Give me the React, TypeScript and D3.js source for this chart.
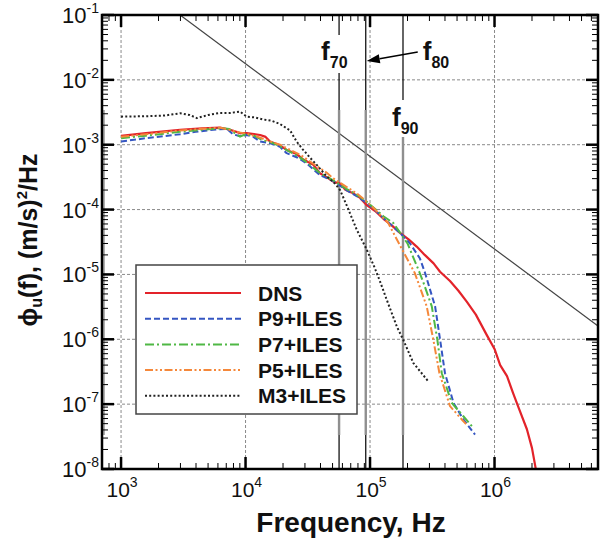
import React from 'react';
import * as d3 from 'd3';

// ---------- data (frequency in Hz, spectrum in (m/s)^2/Hz) ----------
const dns: [number, number][] = [
  [1000, 1.37e-3], [1585, 1.51e-3], [2980, 1.70e-3], [4470, 1.78e-3], [6240, 1.83e-3],
  [7520, 1.70e-3], [9040, 1.51e-3], [10200, 1.51e-3], [13100, 1.41e-3], [14500, 1.32e-3],
  [15700, 1.12e-3], [18900, 9.8e-4], [21400, 8.3e-4], [25700, 7.2e-4], [29100, 5.9e-4],
  [35100, 4.9e-4], [39600, 3.63e-4], [44700, 3.16e-4], [50700, 2.69e-4], [57500, 2.51e-4],
  [63100, 2.04e-4], [69200, 1.86e-4], [73500, 1.78e-4], [83200, 1.51e-4], [94200, 1.17e-4],
  [110000, 9.5e-5], [128000, 7.2e-5], [151000, 5.6e-5], [174000, 4.37e-5], [204000, 3.47e-5],
  [237000, 2.69e-5], [275000, 2.0e-5], [324000, 1.48e-5], [365000, 1.10e-5], [439000, 7.9e-6],
  [513000, 5.6e-6], [598000, 3.8e-6], [708000, 2.4e-6], [865000, 1.17e-6], [1000000, 7.1e-7],
  [1110000, 4.0e-7], [1260000, 2.7e-7], [1410000, 1.48e-7], [1580000, 8.3e-8], [1820000, 4.1e-8],
  [2000000, 2.1e-8], [2150000, 9.8e-9],
];

const p9: [number, number][] = [
  [1000, 1.12e-3], [1585, 1.26e-3], [2980, 1.45e-3], [3980, 1.58e-3], [5500, 1.70e-3],
  [7080, 1.76e-3], [7940, 1.45e-3], [8910, 1.36e-3], [10200, 1.41e-3], [11500, 1.33e-3],
  [13100, 1.12e-3], [15800, 1.05e-3], [18900, 9.3e-4], [21400, 7.4e-4], [26300, 6.3e-4],
  [31600, 5.0e-4], [39600, 3.4e-4], [50700, 2.75e-4], [64600, 2.0e-4], [79400, 1.58e-4],
  [94200, 1.26e-4], [110000, 9.8e-5], [128000, 7.4e-5], [151000, 5.6e-5], [174000, 4.37e-5],
  [209000, 3.02e-5], [251000, 1.78e-5], [277000, 1.05e-5], [302000, 6.0e-6], [333000, 3.24e-6],
  [365000, 1.0e-6], [400000, 3.0e-7], [468000, 1.05e-7], [562000, 5.8e-8], [697000, 3.4e-8],
];

const p7: [number, number][] = [
  [1000, 1.26e-3], [1585, 1.38e-3], [2980, 1.58e-3], [4470, 1.70e-3], [6310, 1.80e-3],
  [7410, 1.74e-3], [8320, 1.48e-3], [9040, 1.33e-3], [10000, 1.45e-3], [12000, 1.35e-3],
  [13800, 1.17e-3], [15800, 1.10e-3], [18900, 9.5e-4], [22400, 7.9e-4], [26900, 6.5e-4],
  [31600, 5.2e-4], [39800, 3.63e-4], [50700, 2.82e-4], [64600, 2.09e-4], [79400, 1.66e-4],
  [94200, 1.32e-4], [110000, 1.02e-4], [128000, 7.9e-5], [154000, 6.2e-5], [200000, 3.0e-5],
  [251000, 1.05e-5], [269000, 7.4e-6], [313000, 3.24e-6], [347000, 1.0e-6], [377000, 3.0e-7],
  [453000, 1.05e-7], [562000, 6.5e-8], [676000, 4.3e-8],
];

const p5: [number, number][] = [
  [1000, 1.33e-3], [1585, 1.45e-3], [2980, 1.66e-3], [4470, 1.76e-3], [6240, 1.83e-3],
  [7410, 1.70e-3], [8910, 1.55e-3], [10200, 1.48e-3], [12600, 1.32e-3], [15800, 1.12e-3],
  [18900, 1.0e-3], [22900, 8.3e-4], [28200, 6.8e-4], [35500, 5.0e-4], [44700, 3.72e-4],
  [50700, 3.02e-4], [64600, 2.24e-4], [79400, 1.74e-4], [94200, 1.32e-4], [110000, 1.0e-4],
  [140000, 6.2e-5], [174000, 2.8e-5], [229000, 1.05e-5], [285000, 3.24e-6], [322000, 1.0e-6],
  [361000, 3.0e-7], [439000, 9.3e-8], [546000, 5.8e-8], [598000, 4.8e-8],
];

const m3: [number, number][] = [
  [1000, 2.71e-3], [1585, 2.75e-3], [2240, 2.82e-3], [2980, 3.05e-3], [3550, 2.88e-3],
  [4070, 2.57e-3], [5010, 2.88e-3], [6240, 3.09e-3], [7590, 3.09e-3], [9040, 3.24e-3],
  [10200, 2.71e-3], [12000, 2.63e-3], [13900, 2.45e-3], [16200, 2.34e-3], [18900, 2.09e-3],
  [22800, 1.66e-3], [25700, 1.12e-3], [28800, 8.5e-4], [33000, 6.3e-4], [38000, 4.7e-4],
  [44900, 3.24e-4], [52400, 2.51e-4], [57500, 2.0e-4], [66100, 1.07e-4], [78200, 4.9e-5],
  [94200, 2.4e-5], [108000, 1.32e-5], [120000, 7.9e-6], [136000, 4.1e-6], [164000, 1.58e-6],
  [184000, 1.0e-6], [223000, 4.3e-7], [294000, 2.24e-7],
];

const refLine: [number, number][] = [[2980, 1e-1], [6.78e6, 1.6e-6]];

const seriesNames = ['DNS', 'P9+ILES', 'P7+ILES', 'P5+ILES', 'M3+ILES'];
const seriesData = [dns, p9, p7, p5, m3];
const seriesColors = ['#e3232a', '#3556c2', '#4fb845', '#f5883a', '#222222'];
const seriesDash = ['', '6,3', '9,3,2,3', '8,2.5,2,2.5,2,2.5', '2,2.2'];
const seriesWidth = [2.2, 2, 2, 2, 2];

const xTickExps = ['3', '4', '5', '6'];
const yTickExps = ['-1', '-2', '-3', '-4', '-5', '-6', '-7', '-8'];

const fMarks = [
  { sub: '70', f: 5.64e4 },
  { sub: '80', f: 9.24e4 },
  { sub: '90', f: 1.84e5 },
];

const FONT = "'Liberation Sans', Arial, Helvetica, sans-serif";

export default function App() {
  const L = 102, R = 598, T = 15, B = 469;
  const x = d3.scaleLog().domain([703, 6.78e6]).range([L, R]);
  const y = d3.scaleLog().domain([1e-8, 1e-1]).range([B, T]);
  const line = d3.line<[number, number]>().x(d => x(d[0])).y(d => y(d[1]));

  const xMajor = xTickExps.map(e => Math.pow(10, +e));
  const yMajor = yTickExps.map(e => Math.pow(10, +e));
  const xMinor: number[] = [];
  for (let k = 2; k <= 6; k++) for (let m = 2; m <= 9; m++) {
    const v = m * Math.pow(10, k);
    if (v > 703 && v < 6.78e6) xMinor.push(v);
  }
  const yMinor: number[] = [];
  for (let k = -8; k <= -2; k++) for (let m = 2; m <= 9; m++) yMinor.push(m * Math.pow(10, k));

  const gridX = xMajor;
  const gridY = yMajor.filter(v => v > 1e-8 && v < 1e-1);

  const ticks: JSX.Element[] = [];
  xMajor.forEach((v, i) => {
    const px = x(v);
    ticks.push(<line key={'xbM' + i} x1={px} x2={px} y1={B} y2={B - 12} stroke="#000" strokeWidth={2.5} />);
    ticks.push(<line key={'xtM' + i} x1={px} x2={px} y1={T} y2={T + 12} stroke="#000" strokeWidth={2.5} />);
  });
  xMinor.forEach((v, i) => {
    const px = x(v);
    ticks.push(<line key={'xbm' + i} x1={px} x2={px} y1={B} y2={B - 6} stroke="#000" strokeWidth={1} />);
    ticks.push(<line key={'xtm' + i} x1={px} x2={px} y1={T} y2={T + 6} stroke="#000" strokeWidth={1} />);
  });
  yMajor.forEach((v, i) => {
    const py = y(v);
    ticks.push(<line key={'ylM' + i} x1={L} x2={L + 12} y1={py} y2={py} stroke="#000" strokeWidth={2.5} />);
    ticks.push(<line key={'yrM' + i} x1={R} x2={R - 12} y1={py} y2={py} stroke="#000" strokeWidth={2.5} />);
  });
  yMinor.forEach((v, i) => {
    const py = y(v);
    ticks.push(<line key={'ylm' + i} x1={L} x2={L + 6} y1={py} y2={py} stroke="#000" strokeWidth={1} />);
    ticks.push(<line key={'yrm' + i} x1={R} x2={R - 6} y1={py} y2={py} stroke="#000" strokeWidth={1} />);
  });

  // f-mark vertical lines with label gaps
  const gray = '#8f8f8f';
  const fLineEls: JSX.Element[] = [];
  const segs: [number, number, string, number][][] = [
    [[T, 35, '#000', 1.2], [73, 110, '#000', 1.2], [110, 435, gray, 2.4], [435, B, '#000', 1.2]],
    [[T, 110, '#000', 1.2], [110, 435, gray, 2.4], [435, B, '#000', 1.2]],
    [[T, 100, '#000', 1.2], [137, 435, gray, 2.4], [435, B, '#000', 1.2]],
  ];
  fMarks.forEach((m, i) => {
    const px = x(m.f);
    segs[i].forEach((s, j) => {
      fLineEls.push(<line key={`fl${i}-${j}`} x1={px} x2={px} y1={s[0]} y2={s[1]} stroke={s[2]} strokeWidth={s[3]} />);
    });
  });
  const fx70 = x(fMarks[0].f), fx80 = x(fMarks[1].f), fx90 = x(fMarks[2].f);

  // arrow to f80
  const ax1 = fx80 + 52, ay1 = 52, ax2 = fx80 + 1, ay2 = 61;
  const ang = Math.atan2(ay2 - ay1, ax2 - ax1);
  const hl = 13, hw = 4.5;
  const bx = ax2 - hl * Math.cos(ang), by = ay2 - hl * Math.sin(ang);
  const arrowPts = [
    [ax2, ay2],
    [bx + hw * Math.sin(ang), by - hw * Math.cos(ang)],
    [bx - hw * Math.sin(ang), by + hw * Math.cos(ang)],
  ].map(p => p.join(',')).join(' ');

  // legend
  const lgX = 136, lgY = 265, lgW = 221, lgH = 149;
  const lgRow0 = 293, lgStep = 25.7;

  return (
    <svg width={600} height={544} style={{ position: 'absolute', left: 0, top: 0, background: '#fff' }}
      fontFamily={FONT}>
      <defs>
        <clipPath id="plotClip"><rect x={L} y={T} width={R - L} height={B - T} /></clipPath>
      </defs>
      <rect x={0} y={0} width={600} height={544} fill="#fff" />

      {/* grid */}
      {gridX.map((v, i) => (
        <line key={'gx' + i} x1={x(v)} x2={x(v)} y1={T} y2={B} stroke="#8a8a8a" strokeWidth={1} strokeDasharray="3,2" />
      ))}
      {gridY.map((v, i) => (
        <line key={'gy' + i} x1={L} x2={R} y1={y(v)} y2={y(v)} stroke="#8a8a8a" strokeWidth={1} strokeDasharray="3,2" />
      ))}

      {/* reference slope line */}
      <g clipPath="url(#plotClip)">
        <path d={line(refLine) || ''} fill="none" stroke="#444" strokeWidth={1.2} />
      </g>

      {fLineEls}

      {/* f labels */}
      <g fontWeight="bold" fill="#111">
        <text x={fx70 - 18} y={60} fontSize={26}>f<tspan fontSize={16} dy={8}>70</tspan></text>
        <text x={fx80 + 57} y={60} fontSize={26}>f<tspan fontSize={16} dy={8}>80</tspan></text>
        <text x={fx90 - 11} y={126} fontSize={26}>f<tspan fontSize={16} dy={8}>90</tspan></text>
      </g>
      <line x1={ax1} y1={ay1} x2={bx} y2={by} stroke="#000" strokeWidth={1.3} />
      <polygon points={arrowPts} fill="#000" />

      {/* series */}
      <g clipPath="url(#plotClip)">
        {seriesData.map((d, i) => (
          <path key={'s' + i} d={line(d) || ''} fill="none" stroke={seriesColors[i]}
            strokeWidth={seriesWidth[i]} strokeDasharray={seriesDash[i] || undefined}
            strokeLinejoin="round" />
        ))}
      </g>

      {/* light overlay strip at left axis */}
      <line x1={L + 2} x2={L + 2} y1={110} y2={435} stroke="#b0b0b0" strokeWidth={2} />

      {/* ticks */}
      {ticks}

      {/* frame */}
      <rect x={L} y={T} width={R - L} height={B - T} fill="none" stroke="#000" strokeWidth={2.5} />

      {/* legend */}
      <rect x={lgX} y={lgY} width={lgW} height={lgH} fill="#fff" stroke="#444" strokeWidth={1.5} />
      {seriesNames.map((n, i) => {
        const ly = lgRow0 + i * lgStep;
        return (
          <g key={'lg' + i}>
            <line x1={145} x2={241} y1={ly} y2={ly} stroke={seriesColors[i]} strokeWidth={seriesWidth[i]}
              strokeDasharray={seriesDash[i] || undefined} />
            <text x={258} y={ly + 7.5} fontSize={21} fontWeight="bold" fill="#111">{n}</text>
          </g>
        );
      })}

      {/* x tick labels */}
      {xTickExps.map((e, i) => (
        <text key={'xl' + i} x={x(xMajor[i]) + 1} y={497} fontSize={21} textAnchor="middle" fill="#111">
          10<tspan fontSize={14} dy={-10}>{e}</tspan>
        </text>
      ))}
      {/* y tick labels */}
      {yTickExps.map((e, i) => (
        <text key={'yl' + i} x={99} y={y(yMajor[i]) + 8} fontSize={22} textAnchor="end" fill="#111">
          10<tspan fontSize={14} dy={-10}>{e}</tspan>
        </text>
      ))}

      {/* axis titles */}
      <text x={351} y={532} fontSize={28} fontWeight="bold" textAnchor="middle" fill="#111">Frequency, Hz</text>
      <text transform="translate(37,240) rotate(-90)" fontSize={25} fontWeight="bold" textAnchor="middle" fill="#111">
        ϕ<tspan fontSize={16} dy={5}>u</tspan><tspan dy={-5}>(f), (m/s)</tspan><tspan fontSize={15} dy={-10}>2</tspan><tspan dy={10}>/Hz</tspan>
      </text>
    </svg>
  );
}
